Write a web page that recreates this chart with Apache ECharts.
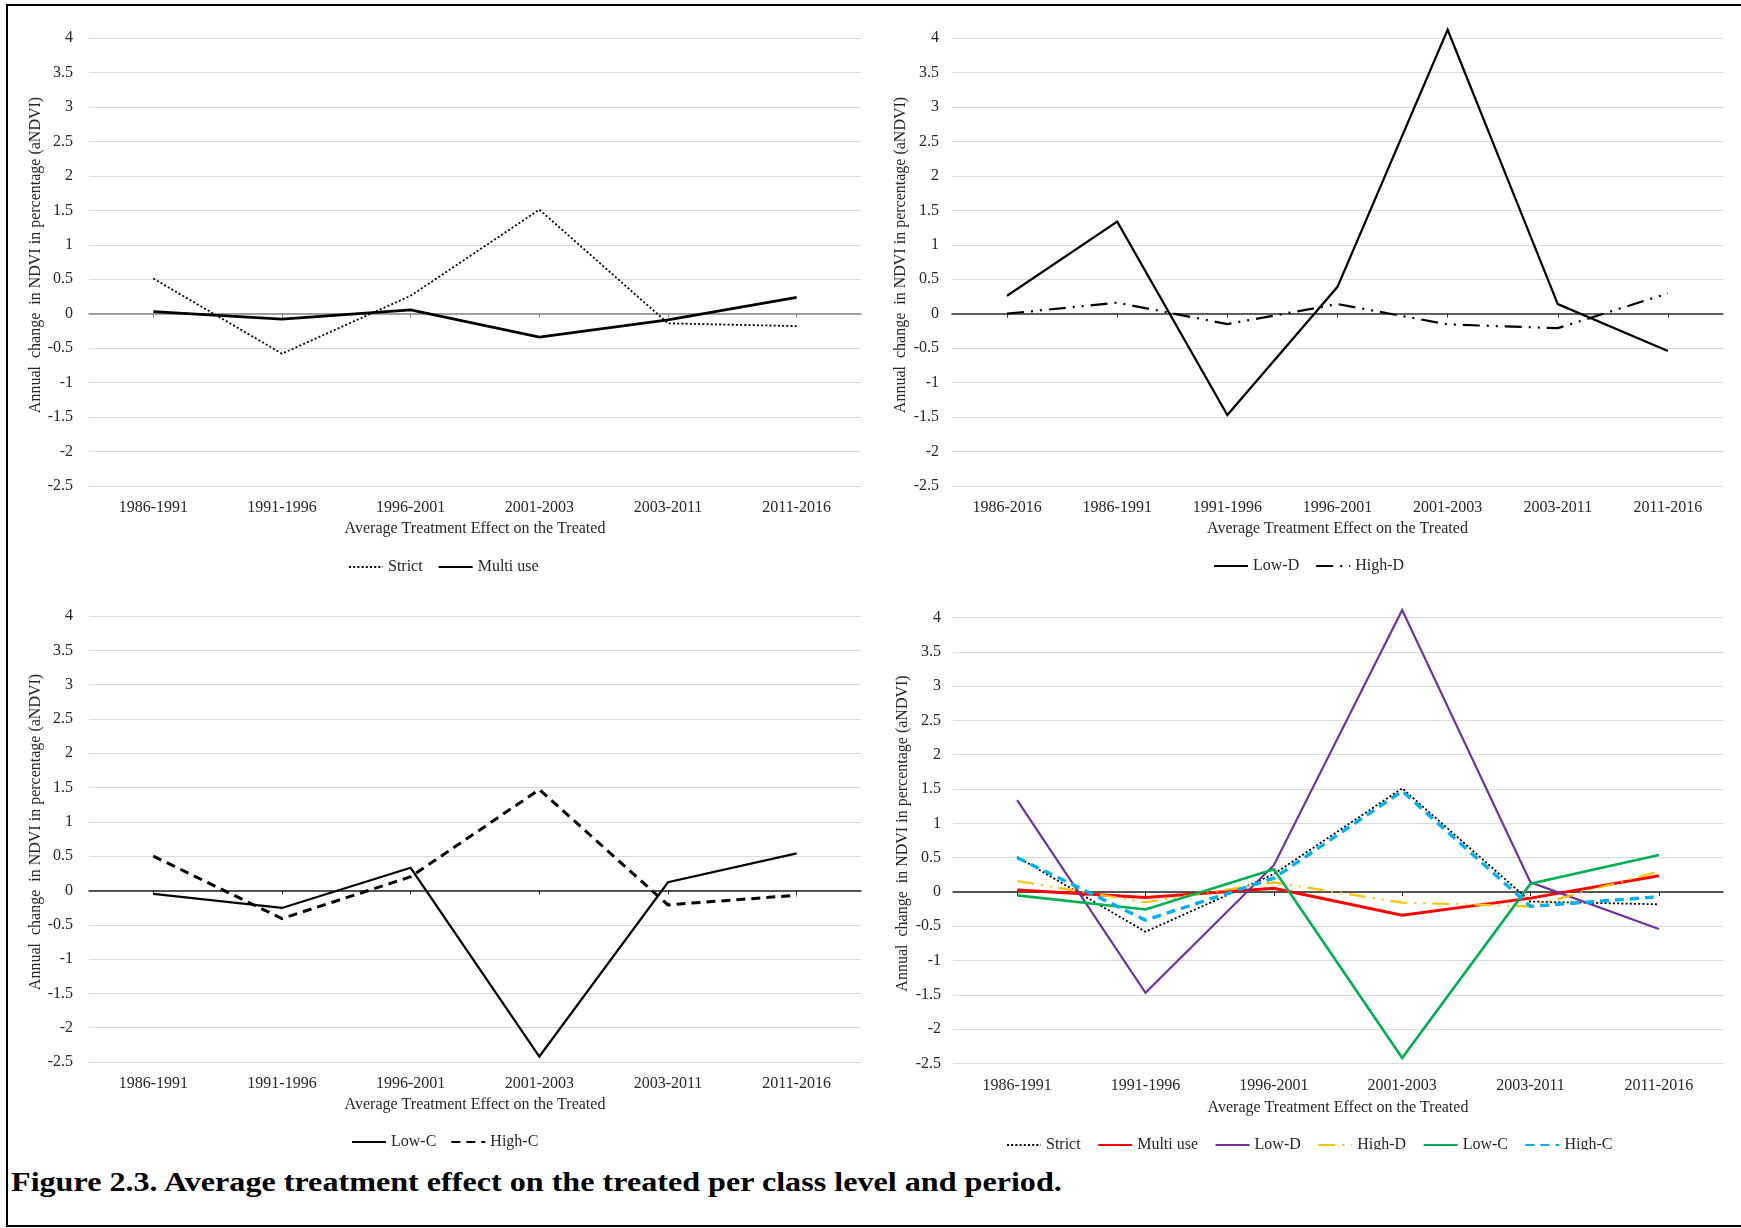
<!DOCTYPE html>
<html>
<head>
<meta charset="utf-8">
<script src="https://cdn.jsdelivr.net/npm/echarts@6/dist/echarts.min.js"></script>
<style>
html,body{margin:0;padding:0;background:#fff;}
body{width:1741px;height:1228px;position:relative;overflow:hidden;}
.p{position:absolute;}
#frame{position:absolute;left:6px;top:4px;width:1735px;height:1223px;box-sizing:border-box;border-top:2px solid #000;border-left:2px solid #000;border-bottom:2px solid #000;}
#cap{position:absolute;left:11px;top:1169px;font:bold 27px 'Liberation Serif',serif;line-height:1;color:#000;white-space:nowrap;transform:scaleX(1.19);transform-origin:0 0;}
</style>
</head>
<body>
<div id="frame"></div>
<div id="c1" class="p" style="left:8px;top:6px;width:862px;height:584px;"></div>
<div id="c2" class="p" style="left:870px;top:6px;width:871px;height:584px;"></div>
<div id="c3" class="p" style="left:8px;top:590px;width:862px;height:560px;"></div>
<div id="c4" class="p" style="left:870px;top:590px;width:871px;height:560px;"></div>
<div id="cap">Figure 2.3. Average treatment effect on the treated per class level and period.</div>
<script>
// ---- data ----
const periods6 = ['1986-1991','1991-1996','1996-2001','2001-2003','2003-2011','2011-2016'];
const periods7 = ['1986-2016','1986-1991','1991-1996','1996-2001','2001-2003','2003-2011','2011-2016'];
const yTicksMin = -2.5, yTicksMax = 4, yTicksStep = 0.5;

const strict   = [0.51, -0.58, 0.26, 1.51, -0.14, -0.18];
const multiUse = [0.03, -0.08, 0.055, -0.34, -0.09, 0.235];
const lowD7    = [0.26, 1.335, -1.47, 0.39, 4.12, 0.14, -0.54];
const highD7   = [0.0, 0.16, -0.15, 0.14, -0.155, -0.21, 0.295];
const lowC     = [-0.05, -0.255, 0.33, -2.42, 0.12, 0.54];
const highC    = [0.50, -0.41, 0.20, 1.47, -0.21, -0.07];
const lowD6    = [1.34, -1.47, 0.39, 4.11, 0.14, -0.54];
const highD6   = [0.16, -0.15, 0.14, -0.155, -0.21, 0.30];

const yTitle = 'Annual  change  in NDVI in percentage (aNDVI)';
const xTitle = 'Average Treatment Effect on the Treated';

const FONT = "'Liberation Serif', 'Times New Roman', serif";
const TXT = '#262626';
const FS = 16;

function lineSeries(name, data, color, width, type) {
  return {
    name: name, type: 'line', data: data, xAxisIndex: 0, yAxisIndex: 0,
    symbol: 'none', showSymbol: false, smooth: false, clip: false,
    lineStyle: { color: color, width: width, type: type || 'solid', cap: 'butt', join: 'miter' },
    itemStyle: { color: color },
    emphasis: { disabled: true }
  };
}

function makeOption(cfg) {
  return {
    animation: false,
    backgroundColor: 'transparent',
    grid: { left: cfg.grid[0], top: cfg.grid[1], width: cfg.grid[2], height: cfg.grid[3], containLabel: false },
    legend: {
      left: cfg.legend[0], top: cfg.legend[1],
      itemWidth: cfg.legendItemWidth || 34, itemHeight: 12, itemGap: cfg.legendGap || 17,
      itemStyle: { color: 'transparent', borderColor: 'transparent', borderWidth: 0, opacity: 0 },
      textStyle: { fontFamily: FONT, fontSize: FS, color: TXT },
      data: cfg.series.map(s => s.name)
    },
    xAxis: [
      {
        type: 'category', data: cfg.cats, boundaryGap: true, position: 'bottom',
        axisLine: { show: false, onZero: false }, axisTick: { show: false },
        axisLabel: { margin: 14, fontFamily: FONT, fontSize: FS, color: TXT },
        name: xTitle, nameLocation: 'middle', nameGap: cfg.nameGapX,
        nameTextStyle: { fontFamily: FONT, fontSize: FS, color: TXT }
      },
      {
        type: 'category', data: cfg.cats, boundaryGap: true, position: 'bottom',
        axisLine: { show: true, onZero: true, lineStyle: { color: cfg.zeroColor, width: 1.5 } },
        axisTick: { show: true, alignWithLabel: true, length: 4, lineStyle: { color: cfg.zeroColor, width: 1 } },
        axisLabel: { show: false }, splitLine: { show: false }
      }
    ],
    yAxis: {
      type: 'value', min: yTicksMin, max: yTicksMax, interval: yTicksStep,
      axisLine: { show: false }, axisTick: { show: false },
      splitLine: { show: true, lineStyle: { color: '#d9d9d9', width: 1.2 } },
      axisLabel: { margin: cfg.yMargin, fontFamily: FONT, fontSize: FS, color: TXT },
      name: yTitle, nameLocation: 'middle', nameRotate: 90, nameGap: cfg.nameGapY,
      nameMoveOverlap: false,
      nameTextStyle: { fontFamily: FONT, fontSize: FS, color: TXT, padding: [0, 0, 0, 14] }
    },
    series: cfg.series
  };
}

const DOTS = [2, 2.2];
const DASHDOT = [17, 7, 2, 7, 2, 7];
const DASH = [9, 6];

const opt1 = makeOption({
  cats: periods6, grid: [81, 32, 772, 448], legend: [335, 548], zeroColor: '#868686',
  yMargin: 16, nameGapY: 45, nameGapX: 35, legendGap: 15,
  series: [
    lineSeries('Strict', strict, '#000', 1.8, DOTS),
    lineSeries('Multi use', multiUse, '#000', 2.8)
  ]
});
const opt2 = makeOption({
  cats: periods7, grid: [82, 32, 771, 448], legend: [338, 547], zeroColor: '#333',
  yMargin: 13, nameGapY: 43.5, nameGapX: 35, legendItemWidth: 34, legendGap: 16,
  series: [
    lineSeries('Low-D', lowD7, '#000', 2.2),
    lineSeries('High-D', highD7, '#000', 2.2, DASHDOT)
  ]
});
const opt3 = makeOption({
  cats: periods6, grid: [81, 26, 772, 446], legend: [338, 539], zeroColor: '#222',
  yMargin: 16, nameGapY: 45, nameGapX: 34, legendGap: 14,
  series: [
    lineSeries('Low-C', lowC, '#000', 2.2),
    lineSeries('High-C', highC, '#000', 3, DASH)
  ]
});
const opt4 = makeOption({
  cats: periods6, grid: [83, 27.5, 770, 446], legend: [131, 542], zeroColor: '#222',
  yMargin: 12, nameGapY: 42, nameGapX: 36, legendItemWidth: 34, legendGap: 16.5,
  series: [
    lineSeries('Strict', strict, '#000', 1.8, DOTS),
    lineSeries('Multi use', multiUse, '#FF0000', 3),
    lineSeries('Low-D', lowD6, '#7030A0', 2.2),
    lineSeries('High-D', highD6, '#FFC000', 2.2, DASHDOT),
    lineSeries('Low-C', lowC, '#00B050', 2.6),
    lineSeries('High-C', highC, '#00B0F0', 3.4, DASH)
  ]
});

[['c1', opt1], ['c2', opt2], ['c3', opt3], ['c4', opt4]].forEach(([id, opt]) => {
  const ch = echarts.init(document.getElementById(id), null, { renderer: 'canvas' });
  ch.setOption(opt);
});
</script>
</body>
</html>
